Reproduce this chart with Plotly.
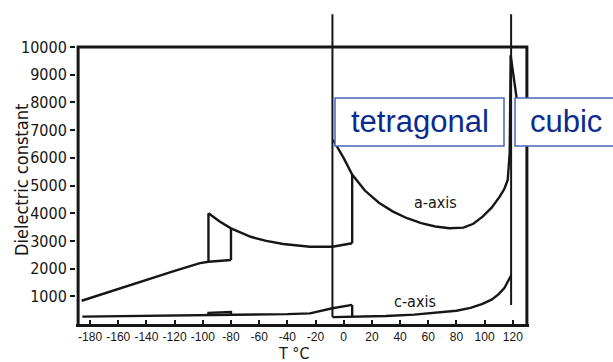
import plotly.graph_objects as go

# ---- data: dielectric constant of a BaTiO3 crystal vs temperature ----
x_tick_vals = [-180, -160, -140, -120, -100, -80, -60, -40, -20, 0, 20, 40, 60, 80, 100, 120]
x_tick_text = ["-180", "-160", "-140", "-120", "-100", "-80", "-60", "-40", "-20",
               "0", "20", "40", "60", "80", "100", "120"]
y_tick_vals = [1000, 2000, 3000, 4000, 5000, 6000, 7000, 8000, 9000, 10000]
y_tick_text = ["1000", "2000", "3000", "4000", "5000", "6000", "7000", "8000", "9000", "10000"]

# a-axis, low temperature line and lower edge of the first hysteresis loop
a_low_T = [-186, -160, -140, -120, -102, -96, -80]
a_low_v = [840, 1270, 1600, 1920, 2200, 2250, 2310]
# a-axis, jumps of the first loop
a_jump1_T = [-96, -96]
a_jump1_v = [2250, 4000]
a_jump2_T = [-80, -80]
a_jump2_v = [2310, 3455]
# a-axis, orthorhombic branch
a_orth_T = [-96, -88, -80, -66, -55, -43, -24, -8, 6]
a_orth_v = [4000, 3700, 3455, 3150, 3000, 2890, 2790, 2790, 2915]
# a-axis, jump at the orthorhombic -> tetragonal transition
a_jump3_T = [6, 6]
a_jump3_v = [2915, 5380]
# a-axis, tetragonal branch
a_tet_T = [-7.5, 0, 6, 15, 25, 35, 45, 55, 65, 75, 85, 92, 98.6, 105, 110.7, 114, 116.4, 117.8, 118.5]
a_tet_v = [6650, 5990, 5400, 4820, 4380, 4060, 3820, 3640, 3520, 3460, 3480, 3620, 3875, 4200, 4600,
           4880, 5200, 6170, 9700]
# cubic branch
cub_T = [118.5, 120.5, 122.7, 124.5]
cub_v = [9700, 8900, 8200, 7500]

# c-axis, low temperature branch
c_low_T = [-185.5, -140, -96, -80, -60, -40, -24, -8, 6]
c_low_v = [265, 290, 320, 340, 345, 355, 385, 570, 690]
c_loop_T = [-96, -96, -80, -80]
c_loop_v = [320, 400, 430, 340]
c_drop_T = [6, 6]
c_drop_v = [690, 250]
# c-axis, tetragonal branch
c_tet_T = [-8, 10, 30, 50, 65, 80, 90, 98, 105, 110, 114, 117, 118.8]
c_tet_v = [250, 260, 290, 340, 400, 480, 580, 720, 880, 1080, 1300, 1550, 1750]

# phase boundaries
bound1_T = [-8, -8]
bound1_v = [250, 11190]
bound2_T = [118.8, 118.8]
bound2_v = [690, 11190]

# frame (left, top, right)
frame_T = [-188.5, -188.5, 130, 130]
frame_v = [0, 10000, 10000, 0]

INK = "#161616"
HAND = "DejaVu Sans Condensed, DejaVu Sans, sans-serif"
TICKF = "Liberation Sans, Arial, sans-serif"

fig = go.Figure()


def add_line(xs, ys, width=2.4):
    fig.add_trace(go.Scatter(x=xs, y=ys, mode="lines",
                             line=dict(color=INK, width=width),
                             showlegend=False, hoverinfo="skip"))


add_line(frame_T, frame_v, 3)
for xs, ys in [(a_low_T, a_low_v), (a_jump1_T, a_jump1_v), (a_jump2_T, a_jump2_v),
               (a_orth_T, a_orth_v), (a_jump3_T, a_jump3_v), (a_tet_T, a_tet_v),
               (cub_T, cub_v), (c_low_T, c_low_v), (c_loop_T, c_loop_v),
               (c_drop_T, c_drop_v), (c_tet_T, c_tet_v)]:
    add_line(xs, ys, 2.4)
add_line(bound1_T, bound1_v, 2)
add_line(bound2_T, bound2_v, 2)

# pixel helpers for the paper-positioned items
L, R, T, B = 76, 84, 10, 38
PW, PH = 613 - L - R, 362 - T - B


def px(x):
    return (x - L) / PW


def py(y):
    return (362 - B - y) / PH


BLUE_TXT = "#0b2c8e"
BLUE_EDGE = "#4a66b8"

shapes = [
    dict(type="rect", xref="paper", yref="paper",
         x0=px(335), x1=px(504), y0=py(146), y1=py(98),
         fillcolor="white", line=dict(color=BLUE_EDGE, width=1.5), layer="above"),
    dict(type="rect", xref="paper", yref="paper",
         x0=px(515), x1=px(650), y0=py(146), y1=py(98),
         fillcolor="white", line=dict(color=BLUE_EDGE, width=1.5), layer="above"),
]


def label(text, x, y, size, color, family, xref="paper", yref="paper", angle=0):
    return dict(text=text, xref=xref, yref=yref, x=x, y=y, xanchor="center", yanchor="middle",
                textangle=angle, showarrow=False,
                font=dict(family=family, size=size, color=color))


annotations = [
    label("tetragonal", px(420), py(121), 31, BLUE_TXT, "Liberation Sans, Arial, sans-serif"),
    label("cubic", px(566), py(121), 31, BLUE_TXT, "Liberation Sans, Arial, sans-serif"),
    label("a-axis", 64.8, 4405, 16, INK, HAND, "x", "y"),
    label("c-axis", 50.6, 830, 16, INK, HAND, "x", "y"),
    label("Dielectric constant", px(21), py(180), 18, INK, HAND, angle=-90),
    label("T °C", px(294), py(353), 16, INK, HAND),
]

fig.update_layout(
    width=613, height=362,
    margin=dict(l=L, r=R, t=T, b=B),
    paper_bgcolor="white", plot_bgcolor="white",
    shapes=shapes, annotations=annotations,
    xaxis=dict(range=[-190, 131.5], tickvals=x_tick_vals, ticktext=x_tick_text,
               ticks="inside", ticklen=4, tickwidth=1.5, tickcolor=INK, tickangle=0,
               showline=True, linewidth=3, linecolor=INK,
               showgrid=False, zeroline=False, automargin=False,
               tickfont=dict(family=TICKF, size=12, color=INK)),
    yaxis=dict(range=[0, 11340], tickvals=y_tick_vals, ticktext=y_tick_text,
               ticks="outside", ticklen=5, tickwidth=1.5, tickcolor=INK,
               showline=False, showgrid=False, zeroline=False, automargin=False,
               tickfont=dict(family=HAND, size=16, color=INK)),
)

fig.write_html("out.html")
